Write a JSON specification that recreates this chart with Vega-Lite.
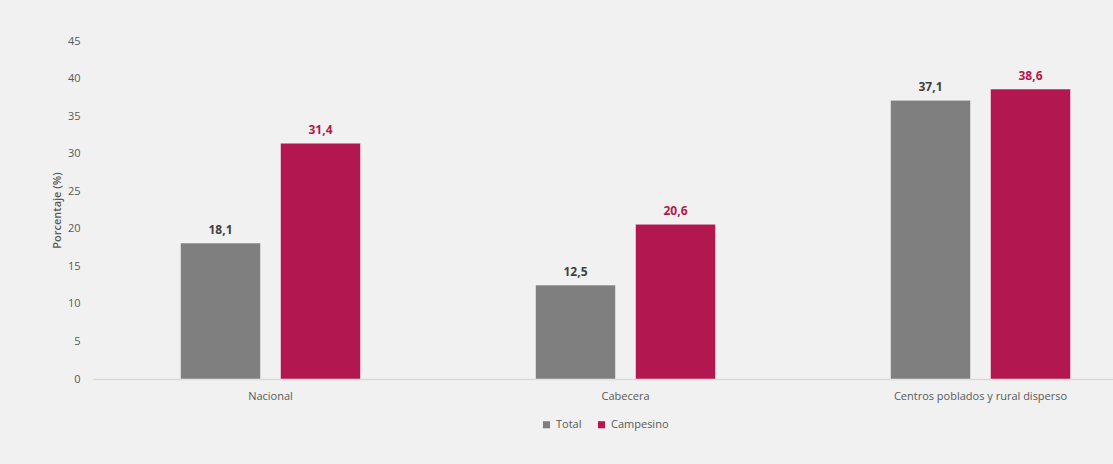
{
  "$schema": "https://vega.github.io/schema/vega-lite/v6.json",
  "width": 1020,
  "height": 338,
  "autosize": {"type": "none"},
  "padding": {"left": 93, "top": 41, "right": 0, "bottom": 85},
  "background": "#f1f1f1",
  "config": {
    "view": {"stroke": null},
    "font": "Open Sans",
    "locale": {"number": {"decimal": ",", "thousands": ".", "grouping": [3], "currency": ["", ""]}}
  },
  "data": {
    "values": [
      {"Zona": "Nacional", "Grupo": "Total", "Porcentaje": 18.1},
      {"Zona": "Nacional", "Grupo": "Campesino", "Porcentaje": 31.4},
      {"Zona": "Cabecera", "Grupo": "Total", "Porcentaje": 12.5},
      {"Zona": "Cabecera", "Grupo": "Campesino", "Porcentaje": 20.6},
      {"Zona": "Centros poblados y rural disperso", "Grupo": "Total", "Porcentaje": 37.1},
      {"Zona": "Centros poblados y rural disperso", "Grupo": "Campesino", "Porcentaje": 38.6}
    ]
  },
  "encoding": {
    "x": {
      "field": "Zona", "type": "nominal",
      "sort": ["Nacional", "Cabecera", "Centros poblados y rural disperso"],
      "scale": {"range": [0, 1065], "paddingInner": 0, "paddingOuter": 0},
      "axis": {
        "title": null, "labelAngle": 0, "ticks": false,
        "domainColor": "#d9d9d9", "domainWidth": 1.5,
        "labelColor": "#595959", "labelFontSize": 11, "labelPadding": 11
      }
    },
    "xOffset": {
      "field": "Grupo", "type": "nominal", "sort": ["Total", "Campesino"],
      "scale": {"paddingInner": 0.2, "paddingOuter": 0.875}
    },
    "y": {
      "field": "Porcentaje", "type": "quantitative",
      "scale": {"domain": [0, 45]},
      "axis": {
        "title": "Porcentaje (%)", "values": [0, 5, 10, 15, 20, 25, 30, 35, 40, 45],
        "grid": false, "domain": false, "ticks": false,
        "labelColor": "#595959", "labelFontSize": 11, "labelPadding": 13,
        "titleColor": "#595959", "titleFontSize": 11, "titleFontWeight": 600, "titlePadding": 5
      }
    }
  },
  "layer": [
    {
      "mark": {"type": "bar", "stroke": "#ffffff", "strokeOpacity": 0.45, "strokeWidth": 1},
      "encoding": {
        "color": {
          "field": "Grupo", "type": "nominal",
          "scale": {"domain": ["Total", "Campesino"], "range": ["#7f7f7f", "#b3174f"]},
          "legend": {
            "title": null, "orient": "none", "direction": "horizontal",
            "legendX": 448, "legendY": 378,
            "symbolType": "square", "symbolSize": 50, "symbolStrokeWidth": 0,
            "labelColor": "#595959", "labelFontSize": 11, "columnPadding": 14
          }
        }
      }
    },
    {
      "mark": {"type": "text", "baseline": "bottom", "dy": -6, "fontWeight": "bold", "fontSize": 12},
      "encoding": {
        "text": {"field": "Porcentaje", "type": "quantitative", "format": ".1f"},
        "color": {"condition": {"test": "datum.Grupo === 'Total'", "value": "#404040"}, "value": "#b3174f"}
      }
    }
  ]
}
